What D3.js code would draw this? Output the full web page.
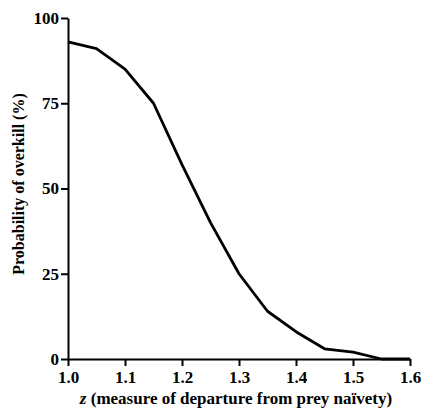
<!DOCTYPE html>
<html>
<head>
<meta charset="utf-8">
<script src="https://cdn.jsdelivr.net/npm/d3@7"></script>
<style>
  body { margin: 0; background: #fff; }
  svg text { font-family: "Liberation Serif", "DejaVu Serif", serif; font-weight: bold; fill: #000; }
</style>
</head>
<body>
<div id="chart"></div>
<script>
// departure from prey naivety (z) and probability of overkill (%)
var zValues = [1.0, 1.05, 1.1, 1.15, 1.2, 1.25, 1.3, 1.35, 1.4, 1.45, 1.5, 1.55, 1.6];
var overkill = [93, 91, 85, 75, 57, 40, 25, 14, 8, 3, 2, 0, 0];
var xTicks = [1.0, 1.1, 1.2, 1.3, 1.4, 1.5, 1.6];
var yTicks = [0, 25, 50, 75, 100];

var width = 422, height = 411;
var margin = {left: 68, right: 12, top: 18, bottom: 52};

var svg = d3.select('#chart').append('svg')
  .attr('width', width).attr('height', height);

var x = d3.scaleLinear().domain([1.0, 1.6]).range([margin.left, width - margin.right]);
var y = d3.scaleLinear().domain([0, 100]).range([height - margin.bottom, margin.top]);

// y axis
var yAxis = svg.append('g')
  .attr('transform', 'translate(' + margin.left + ',0)')
  .call(d3.axisLeft(y).tickValues(yTicks).tickSize(7).tickPadding(2).tickSizeOuter(0));

// x axis
var xAxis = svg.append('g')
  .attr('transform', 'translate(0,' + y(0) + ')')
  .call(d3.axisBottom(x).tickValues(xTicks).tickFormat(d3.format('.1f')).tickSize(7).tickPadding(5).tickSizeOuter(0));

[xAxis, yAxis].forEach(function (g) {
  g.select('.domain').attr('stroke', '#000').attr('stroke-width', 2);
  g.selectAll('.tick line').attr('stroke', '#000').attr('stroke-width', 2);
  g.selectAll('.tick text').style('font-size', '17px');
});

// the curve
var line = d3.line()
  .x(function (d, i) { return x(zValues[i]); })
  .y(function (d) { return y(d); });

svg.append('path')
  .datum(overkill)
  .attr('fill', 'none')
  .attr('stroke', '#000')
  .attr('stroke-width', 2.8)
  .attr('stroke-linejoin', 'round')
  .attr('d', line);

// axis titles
var xt = svg.append('text')
  .attr('x', 236)
  .attr('y', 404)
  .attr('text-anchor', 'middle')
  .style('font-size', '17px');
xt.append('tspan').style('font-style', 'italic').text('z');
xt.append('tspan').text(' (measure of departure from prey naïvety)');

svg.append('text')
  .attr('transform', 'translate(24,184) rotate(-90)')
  .attr('text-anchor', 'middle')
  .style('font-size', '16px')
  .text('Probability of overkill (%)');
</script>
</body>
</html>
